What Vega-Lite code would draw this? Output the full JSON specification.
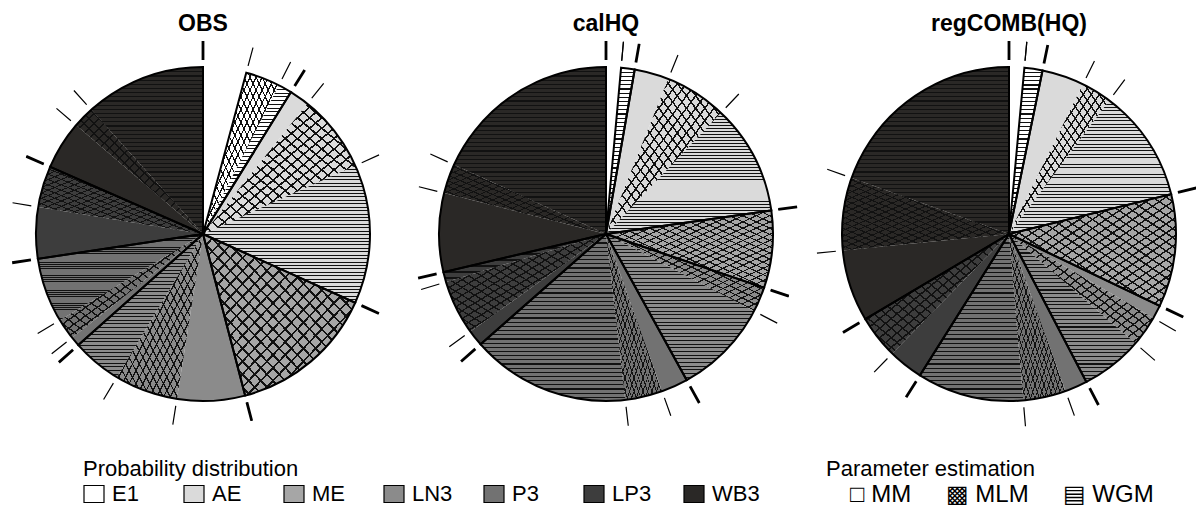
{
"$schema":"https://vega.github.io/schema/vega-lite/v6.json",
"background":"white",
"padding":{"left":6,"top":13,"right":0,"bottom":0},
"bounds":"flush",
"data":{"values":[
{"panel":"OBS","dist":"E1","method":"MM","value":4.17},
{"panel":"OBS","dist":"E1","method":"MLM","value":3.33},
{"panel":"OBS","dist":"E1","method":"WGM","value":1.33},
{"panel":"OBS","dist":"AE","method":"MM","value":1.92},
{"panel":"OBS","dist":"AE","method":"MLM","value":7.53},
{"panel":"OBS","dist":"AE","method":"WGM","value":13.47},
{"panel":"OBS","dist":"ME","method":"MM","value":0},
{"panel":"OBS","dist":"ME","method":"MLM","value":14.19},
{"panel":"OBS","dist":"ME","method":"WGM","value":0},
{"panel":"OBS","dist":"LN3","method":"MM","value":6.56},
{"panel":"OBS","dist":"LN3","method":"MLM","value":6.11},
{"panel":"OBS","dist":"LN3","method":"WGM","value":4.81},
{"panel":"OBS","dist":"P3","method":"MM","value":0.92},
{"panel":"OBS","dist":"P3","method":"MLM","value":2.03},
{"panel":"OBS","dist":"P3","method":"WGM","value":6.25},
{"panel":"OBS","dist":"LP3","method":"MM","value":4.97},
{"panel":"OBS","dist":"LP3","method":"MLM","value":4.0},
{"panel":"OBS","dist":"LP3","method":"WGM","value":0},
{"panel":"OBS","dist":"WB3","method":"MM","value":4.69},
{"panel":"OBS","dist":"WB3","method":"MLM","value":2.06},
{"panel":"OBS","dist":"WB3","method":"WGM","value":11.66},
{"panel":"calHQ","dist":"E1","method":"MM","value":1.44},
{"panel":"calHQ","dist":"E1","method":"MLM","value":0},
{"panel":"calHQ","dist":"E1","method":"WGM","value":1.31},
{"panel":"calHQ","dist":"AE","method":"MM","value":3.33},
{"panel":"calHQ","dist":"AE","method":"MLM","value":6.0},
{"panel":"calHQ","dist":"AE","method":"WGM","value":10.67},
{"panel":"calHQ","dist":"ME","method":"MM","value":0},
{"panel":"calHQ","dist":"ME","method":"MLM","value":7.47},
{"panel":"calHQ","dist":"ME","method":"WGM","value":0},
{"panel":"calHQ","dist":"LN3","method":"MM","value":0},
{"panel":"calHQ","dist":"LN3","method":"MLM","value":2.42},
{"panel":"calHQ","dist":"LN3","method":"WGM","value":9.33},
{"panel":"calHQ","dist":"P3","method":"MM","value":2.58},
{"panel":"calHQ","dist":"P3","method":"MLM","value":3.61},
{"panel":"calHQ","dist":"P3","method":"WGM","value":15.36},
{"panel":"calHQ","dist":"LP3","method":"MM","value":1.56},
{"panel":"calHQ","dist":"LP3","method":"MLM","value":5.28},
{"panel":"calHQ","dist":"LP3","method":"WGM","value":0.97},
{"panel":"calHQ","dist":"WB3","method":"MM","value":7.61},
{"panel":"calHQ","dist":"WB3","method":"MLM","value":2.86},
{"panel":"calHQ","dist":"WB3","method":"WGM","value":18.2},
{"panel":"regCOMB(HQ)","dist":"E1","method":"MM","value":1.47},
{"panel":"regCOMB(HQ)","dist":"E1","method":"MLM","value":0},
{"panel":"regCOMB(HQ)","dist":"E1","method":"WGM","value":1.75},
{"panel":"regCOMB(HQ)","dist":"AE","method":"MM","value":4.08},
{"panel":"regCOMB(HQ)","dist":"AE","method":"MLM","value":2.94},
{"panel":"regCOMB(HQ)","dist":"AE","method":"WGM","value":10.92},
{"panel":"regCOMB(HQ)","dist":"ME","method":"MM","value":0},
{"panel":"regCOMB(HQ)","dist":"ME","method":"MLM","value":10.92},
{"panel":"regCOMB(HQ)","dist":"ME","method":"WGM","value":0},
{"panel":"regCOMB(HQ)","dist":"LN3","method":"MM","value":1.31},
{"panel":"regCOMB(HQ)","dist":"LN3","method":"MLM","value":2.97},
{"panel":"regCOMB(HQ)","dist":"LN3","method":"WGM","value":5.97},
{"panel":"regCOMB(HQ)","dist":"P3","method":"MM","value":2.17},
{"panel":"regCOMB(HQ)","dist":"P3","method":"MLM","value":4.14},
{"panel":"regCOMB(HQ)","dist":"P3","method":"WGM","value":10.31},
{"panel":"regCOMB(HQ)","dist":"LP3","method":"MM","value":3.36},
{"panel":"regCOMB(HQ)","dist":"LP3","method":"MLM","value":4.17},
{"panel":"regCOMB(HQ)","dist":"LP3","method":"WGM","value":0},
{"panel":"regCOMB(HQ)","dist":"WB3","method":"MM","value":6.94},
{"panel":"regCOMB(HQ)","dist":"WB3","method":"MLM","value":7.03},
{"panel":"regCOMB(HQ)","dist":"WB3","method":"WGM","value":19.55}
]},
"transform":[
{"window":[{"op":"sum","field":"value","as":"end"}],"groupby":["panel"],"frame":[null,0]},
{"window":[{"op":"sum","field":"value","as":"start"}],"groupby":["panel"],"frame":[null,-1]}
],
"facet":{"column":{"field":"panel","type":"nominal","sort":["OBS","calHQ","regCOMB(HQ)"],"title":null,
 "header":{"labelFontSize":23,"labelFontWeight":"bold","labelFont":"Liberation Sans","labelColor":"black","labelPadding":11}}},
"spacing":29,
"spec":{"width":374,"height":374,"layer":[
{"mark":{"type":"point","size":1,"filled":true,"fill":"white","stroke":"black","strokeWidth":1},
 "encoding":{"shape":{"field":"method","type":"nominal",
  "scale":{"domain":["MM","MLM","WGM"],"range":["square","square","square"]},
  "legend":{"orient":"none","legendX":810,"legendY":412,"direction":"horizontal","columns":3,"title":"Parameter estimation","titleLimit":400,"titleFontSize":22,"titleFont":"Liberation Sans","titleFontWeight":"normal","titleColor":"black","labelFontSize":24,"labelFont":"Liberation Sans, DejaVu Sans","labelColor":"black","labelLimit":200,
   "labelExpr":"datum.value === 'MLM' ? '\u25a9 MLM' : datum.value === 'WGM' ? '\u25a4 WGM' : '\u25a1 MM'",
   "symbolSize":1,"symbolOpacity":0,"columnPadding":10,"gridAlign":"each","labelOffset":0,"titlePadding":2,"padding":0,"offset":0}}}},
{"mark":{"type":"arc","radius":167},
 "encoding":{"theta":{"field":"start","type":"quantitative","scale":{"domain":[0,100]}},"theta2":{"field":"end"},
  "fill":{"field":"dist","type":"nominal","scale":{"domain":["E1","AE","ME","LN3","P3","LP3","WB3"],"range":["#ffffff","#dadada","#a6a6a6","#8b8b8b","#727272","#3d3d3d","#2a2826"]},
   "legend":{"orient":"none","legendX":67,"legendY":412,"direction":"horizontal","columns":7,"title":"Probability distribution","titleLimit":400,"titleFontSize":22,"titleFont":"Liberation Sans","titleFontWeight":"normal","titleColor":"black","labelFontSize":22,"labelFont":"Liberation Sans","labelColor":"black","symbolType":"M-1,-0.85H1V0.85H-1Z","symbolSize":400,"symbolStrokeColor":"black","symbolStrokeWidth":1.2,"columnPadding":21,"gridAlign":"all","labelOffset":7,"titlePadding":2,"padding":0}}}},
{"transform":[{"filter":"datum.method === 'WGM'"}],
 "mark":{"type":"arc","radius":167,"fill":{"gradient":"linear","x1":0,"y1":0,"x2":0,"y2":1,"stops":[
{"offset":0,"color":"#111"},{"offset":0.007,"color":"#111"},{"offset":0.007,"color":"rgba(0,0,0,0)"},{"offset":0.025,"color":"rgba(0,0,0,0)"},
{"offset":0.025,"color":"#111"},{"offset":0.032,"color":"#111"},{"offset":0.032,"color":"rgba(0,0,0,0)"},{"offset":0.05,"color":"rgba(0,0,0,0)"},
{"offset":0.05,"color":"#111"},{"offset":0.057,"color":"#111"},{"offset":0.057,"color":"rgba(0,0,0,0)"},{"offset":0.075,"color":"rgba(0,0,0,0)"},
{"offset":0.075,"color":"#111"},{"offset":0.082,"color":"#111"},{"offset":0.082,"color":"rgba(0,0,0,0)"},{"offset":0.1,"color":"rgba(0,0,0,0)"},
{"offset":0.1,"color":"#111"},{"offset":0.107,"color":"#111"},{"offset":0.107,"color":"rgba(0,0,0,0)"},{"offset":0.125,"color":"rgba(0,0,0,0)"},
{"offset":0.125,"color":"#111"},{"offset":0.132,"color":"#111"},{"offset":0.132,"color":"rgba(0,0,0,0)"},{"offset":0.15,"color":"rgba(0,0,0,0)"},
{"offset":0.15,"color":"#111"},{"offset":0.157,"color":"#111"},{"offset":0.157,"color":"rgba(0,0,0,0)"},{"offset":0.175,"color":"rgba(0,0,0,0)"},
{"offset":0.175,"color":"#111"},{"offset":0.182,"color":"#111"},{"offset":0.182,"color":"rgba(0,0,0,0)"},{"offset":0.2,"color":"rgba(0,0,0,0)"},
{"offset":0.2,"color":"#111"},{"offset":0.207,"color":"#111"},{"offset":0.207,"color":"rgba(0,0,0,0)"},{"offset":0.225,"color":"rgba(0,0,0,0)"},
{"offset":0.225,"color":"#111"},{"offset":0.232,"color":"#111"},{"offset":0.232,"color":"rgba(0,0,0,0)"},{"offset":0.25,"color":"rgba(0,0,0,0)"},
{"offset":0.25,"color":"#111"},{"offset":0.257,"color":"#111"},{"offset":0.257,"color":"rgba(0,0,0,0)"},{"offset":0.275,"color":"rgba(0,0,0,0)"},
{"offset":0.275,"color":"#111"},{"offset":0.282,"color":"#111"},{"offset":0.282,"color":"rgba(0,0,0,0)"},{"offset":0.3,"color":"rgba(0,0,0,0)"},
{"offset":0.3,"color":"#111"},{"offset":0.307,"color":"#111"},{"offset":0.307,"color":"rgba(0,0,0,0)"},{"offset":0.325,"color":"rgba(0,0,0,0)"},
{"offset":0.325,"color":"#111"},{"offset":0.332,"color":"#111"},{"offset":0.332,"color":"rgba(0,0,0,0)"},{"offset":0.35,"color":"rgba(0,0,0,0)"},
{"offset":0.35,"color":"#111"},{"offset":0.357,"color":"#111"},{"offset":0.357,"color":"rgba(0,0,0,0)"},{"offset":0.375,"color":"rgba(0,0,0,0)"},
{"offset":0.375,"color":"#111"},{"offset":0.382,"color":"#111"},{"offset":0.382,"color":"rgba(0,0,0,0)"},{"offset":0.4,"color":"rgba(0,0,0,0)"},
{"offset":0.4,"color":"#111"},{"offset":0.407,"color":"#111"},{"offset":0.407,"color":"rgba(0,0,0,0)"},{"offset":0.425,"color":"rgba(0,0,0,0)"},
{"offset":0.425,"color":"#111"},{"offset":0.432,"color":"#111"},{"offset":0.432,"color":"rgba(0,0,0,0)"},{"offset":0.45,"color":"rgba(0,0,0,0)"},
{"offset":0.45,"color":"#111"},{"offset":0.457,"color":"#111"},{"offset":0.457,"color":"rgba(0,0,0,0)"},{"offset":0.475,"color":"rgba(0,0,0,0)"},
{"offset":0.475,"color":"#111"},{"offset":0.482,"color":"#111"},{"offset":0.482,"color":"rgba(0,0,0,0)"},{"offset":0.5,"color":"rgba(0,0,0,0)"},
{"offset":0.5,"color":"#111"},{"offset":0.507,"color":"#111"},{"offset":0.507,"color":"rgba(0,0,0,0)"},{"offset":0.525,"color":"rgba(0,0,0,0)"},
{"offset":0.525,"color":"#111"},{"offset":0.532,"color":"#111"},{"offset":0.532,"color":"rgba(0,0,0,0)"},{"offset":0.55,"color":"rgba(0,0,0,0)"},
{"offset":0.55,"color":"#111"},{"offset":0.557,"color":"#111"},{"offset":0.557,"color":"rgba(0,0,0,0)"},{"offset":0.575,"color":"rgba(0,0,0,0)"},
{"offset":0.575,"color":"#111"},{"offset":0.582,"color":"#111"},{"offset":0.582,"color":"rgba(0,0,0,0)"},{"offset":0.6,"color":"rgba(0,0,0,0)"},
{"offset":0.6,"color":"#111"},{"offset":0.607,"color":"#111"},{"offset":0.607,"color":"rgba(0,0,0,0)"},{"offset":0.625,"color":"rgba(0,0,0,0)"},
{"offset":0.625,"color":"#111"},{"offset":0.632,"color":"#111"},{"offset":0.632,"color":"rgba(0,0,0,0)"},{"offset":0.65,"color":"rgba(0,0,0,0)"},
{"offset":0.65,"color":"#111"},{"offset":0.657,"color":"#111"},{"offset":0.657,"color":"rgba(0,0,0,0)"},{"offset":0.675,"color":"rgba(0,0,0,0)"},
{"offset":0.675,"color":"#111"},{"offset":0.682,"color":"#111"},{"offset":0.682,"color":"rgba(0,0,0,0)"},{"offset":0.7,"color":"rgba(0,0,0,0)"},
{"offset":0.7,"color":"#111"},{"offset":0.707,"color":"#111"},{"offset":0.707,"color":"rgba(0,0,0,0)"},{"offset":0.725,"color":"rgba(0,0,0,0)"},
{"offset":0.725,"color":"#111"},{"offset":0.732,"color":"#111"},{"offset":0.732,"color":"rgba(0,0,0,0)"},{"offset":0.75,"color":"rgba(0,0,0,0)"},
{"offset":0.75,"color":"#111"},{"offset":0.757,"color":"#111"},{"offset":0.757,"color":"rgba(0,0,0,0)"},{"offset":0.775,"color":"rgba(0,0,0,0)"},
{"offset":0.775,"color":"#111"},{"offset":0.782,"color":"#111"},{"offset":0.782,"color":"rgba(0,0,0,0)"},{"offset":0.8,"color":"rgba(0,0,0,0)"},
{"offset":0.8,"color":"#111"},{"offset":0.807,"color":"#111"},{"offset":0.807,"color":"rgba(0,0,0,0)"},{"offset":0.825,"color":"rgba(0,0,0,0)"},
{"offset":0.825,"color":"#111"},{"offset":0.832,"color":"#111"},{"offset":0.832,"color":"rgba(0,0,0,0)"},{"offset":0.85,"color":"rgba(0,0,0,0)"},
{"offset":0.85,"color":"#111"},{"offset":0.857,"color":"#111"},{"offset":0.857,"color":"rgba(0,0,0,0)"},{"offset":0.875,"color":"rgba(0,0,0,0)"},
{"offset":0.875,"color":"#111"},{"offset":0.882,"color":"#111"},{"offset":0.882,"color":"rgba(0,0,0,0)"},{"offset":0.9,"color":"rgba(0,0,0,0)"},
{"offset":0.9,"color":"#111"},{"offset":0.907,"color":"#111"},{"offset":0.907,"color":"rgba(0,0,0,0)"},{"offset":0.925,"color":"rgba(0,0,0,0)"},
{"offset":0.925,"color":"#111"},{"offset":0.932,"color":"#111"},{"offset":0.932,"color":"rgba(0,0,0,0)"},{"offset":0.95,"color":"rgba(0,0,0,0)"},
{"offset":0.95,"color":"#111"},{"offset":0.957,"color":"#111"},{"offset":0.957,"color":"rgba(0,0,0,0)"},{"offset":0.975,"color":"rgba(0,0,0,0)"},
{"offset":0.975,"color":"#111"},{"offset":0.982,"color":"#111"},{"offset":0.982,"color":"rgba(0,0,0,0)"},{"offset":1,"color":"rgba(0,0,0,0)"}
]}},
 "encoding":{"theta":{"field":"start","type":"quantitative"},"theta2":{"field":"end"}}},
{"transform":[{"filter":"datum.method === 'MLM'"}],
 "mark":{"type":"arc","radius":167,"fill":{"gradient":"linear","x1":0,"y1":0,"x2":1,"y2":1,"stops":[
{"offset":0,"color":"#111"},{"offset":0.008,"color":"#111"},{"offset":0.008,"color":"rgba(0,0,0,0)"},{"offset":0.04,"color":"rgba(0,0,0,0)"},
{"offset":0.04,"color":"#111"},{"offset":0.048,"color":"#111"},{"offset":0.048,"color":"rgba(0,0,0,0)"},{"offset":0.08,"color":"rgba(0,0,0,0)"},
{"offset":0.08,"color":"#111"},{"offset":0.088,"color":"#111"},{"offset":0.088,"color":"rgba(0,0,0,0)"},{"offset":0.12,"color":"rgba(0,0,0,0)"},
{"offset":0.12,"color":"#111"},{"offset":0.128,"color":"#111"},{"offset":0.128,"color":"rgba(0,0,0,0)"},{"offset":0.16,"color":"rgba(0,0,0,0)"},
{"offset":0.16,"color":"#111"},{"offset":0.168,"color":"#111"},{"offset":0.168,"color":"rgba(0,0,0,0)"},{"offset":0.2,"color":"rgba(0,0,0,0)"},
{"offset":0.2,"color":"#111"},{"offset":0.208,"color":"#111"},{"offset":0.208,"color":"rgba(0,0,0,0)"},{"offset":0.24,"color":"rgba(0,0,0,0)"},
{"offset":0.24,"color":"#111"},{"offset":0.248,"color":"#111"},{"offset":0.248,"color":"rgba(0,0,0,0)"},{"offset":0.28,"color":"rgba(0,0,0,0)"},
{"offset":0.28,"color":"#111"},{"offset":0.288,"color":"#111"},{"offset":0.288,"color":"rgba(0,0,0,0)"},{"offset":0.32,"color":"rgba(0,0,0,0)"},
{"offset":0.32,"color":"#111"},{"offset":0.328,"color":"#111"},{"offset":0.328,"color":"rgba(0,0,0,0)"},{"offset":0.36,"color":"rgba(0,0,0,0)"},
{"offset":0.36,"color":"#111"},{"offset":0.368,"color":"#111"},{"offset":0.368,"color":"rgba(0,0,0,0)"},{"offset":0.4,"color":"rgba(0,0,0,0)"},
{"offset":0.4,"color":"#111"},{"offset":0.408,"color":"#111"},{"offset":0.408,"color":"rgba(0,0,0,0)"},{"offset":0.44,"color":"rgba(0,0,0,0)"},
{"offset":0.44,"color":"#111"},{"offset":0.448,"color":"#111"},{"offset":0.448,"color":"rgba(0,0,0,0)"},{"offset":0.48,"color":"rgba(0,0,0,0)"},
{"offset":0.48,"color":"#111"},{"offset":0.488,"color":"#111"},{"offset":0.488,"color":"rgba(0,0,0,0)"},{"offset":0.52,"color":"rgba(0,0,0,0)"},
{"offset":0.52,"color":"#111"},{"offset":0.528,"color":"#111"},{"offset":0.528,"color":"rgba(0,0,0,0)"},{"offset":0.56,"color":"rgba(0,0,0,0)"},
{"offset":0.56,"color":"#111"},{"offset":0.568,"color":"#111"},{"offset":0.568,"color":"rgba(0,0,0,0)"},{"offset":0.6,"color":"rgba(0,0,0,0)"},
{"offset":0.6,"color":"#111"},{"offset":0.608,"color":"#111"},{"offset":0.608,"color":"rgba(0,0,0,0)"},{"offset":0.64,"color":"rgba(0,0,0,0)"},
{"offset":0.64,"color":"#111"},{"offset":0.648,"color":"#111"},{"offset":0.648,"color":"rgba(0,0,0,0)"},{"offset":0.68,"color":"rgba(0,0,0,0)"},
{"offset":0.68,"color":"#111"},{"offset":0.688,"color":"#111"},{"offset":0.688,"color":"rgba(0,0,0,0)"},{"offset":0.72,"color":"rgba(0,0,0,0)"},
{"offset":0.72,"color":"#111"},{"offset":0.728,"color":"#111"},{"offset":0.728,"color":"rgba(0,0,0,0)"},{"offset":0.76,"color":"rgba(0,0,0,0)"},
{"offset":0.76,"color":"#111"},{"offset":0.768,"color":"#111"},{"offset":0.768,"color":"rgba(0,0,0,0)"},{"offset":0.8,"color":"rgba(0,0,0,0)"},
{"offset":0.8,"color":"#111"},{"offset":0.808,"color":"#111"},{"offset":0.808,"color":"rgba(0,0,0,0)"},{"offset":0.84,"color":"rgba(0,0,0,0)"},
{"offset":0.84,"color":"#111"},{"offset":0.848,"color":"#111"},{"offset":0.848,"color":"rgba(0,0,0,0)"},{"offset":0.88,"color":"rgba(0,0,0,0)"},
{"offset":0.88,"color":"#111"},{"offset":0.888,"color":"#111"},{"offset":0.888,"color":"rgba(0,0,0,0)"},{"offset":0.92,"color":"rgba(0,0,0,0)"},
{"offset":0.92,"color":"#111"},{"offset":0.928,"color":"#111"},{"offset":0.928,"color":"rgba(0,0,0,0)"},{"offset":0.96,"color":"rgba(0,0,0,0)"},
{"offset":0.96,"color":"#111"},{"offset":0.968,"color":"#111"},{"offset":0.968,"color":"rgba(0,0,0,0)"},{"offset":1,"color":"rgba(0,0,0,0)"}
]}},
 "encoding":{"theta":{"field":"start","type":"quantitative"},"theta2":{"field":"end"}}},
{"transform":[{"filter":"datum.method === 'MLM'"}],
 "mark":{"type":"arc","radius":167,"fill":{"gradient":"linear","x1":1,"y1":0,"x2":0,"y2":1,"stops":[
{"offset":0,"color":"#111"},{"offset":0.008,"color":"#111"},{"offset":0.008,"color":"rgba(0,0,0,0)"},{"offset":0.04,"color":"rgba(0,0,0,0)"},
{"offset":0.04,"color":"#111"},{"offset":0.048,"color":"#111"},{"offset":0.048,"color":"rgba(0,0,0,0)"},{"offset":0.08,"color":"rgba(0,0,0,0)"},
{"offset":0.08,"color":"#111"},{"offset":0.088,"color":"#111"},{"offset":0.088,"color":"rgba(0,0,0,0)"},{"offset":0.12,"color":"rgba(0,0,0,0)"},
{"offset":0.12,"color":"#111"},{"offset":0.128,"color":"#111"},{"offset":0.128,"color":"rgba(0,0,0,0)"},{"offset":0.16,"color":"rgba(0,0,0,0)"},
{"offset":0.16,"color":"#111"},{"offset":0.168,"color":"#111"},{"offset":0.168,"color":"rgba(0,0,0,0)"},{"offset":0.2,"color":"rgba(0,0,0,0)"},
{"offset":0.2,"color":"#111"},{"offset":0.208,"color":"#111"},{"offset":0.208,"color":"rgba(0,0,0,0)"},{"offset":0.24,"color":"rgba(0,0,0,0)"},
{"offset":0.24,"color":"#111"},{"offset":0.248,"color":"#111"},{"offset":0.248,"color":"rgba(0,0,0,0)"},{"offset":0.28,"color":"rgba(0,0,0,0)"},
{"offset":0.28,"color":"#111"},{"offset":0.288,"color":"#111"},{"offset":0.288,"color":"rgba(0,0,0,0)"},{"offset":0.32,"color":"rgba(0,0,0,0)"},
{"offset":0.32,"color":"#111"},{"offset":0.328,"color":"#111"},{"offset":0.328,"color":"rgba(0,0,0,0)"},{"offset":0.36,"color":"rgba(0,0,0,0)"},
{"offset":0.36,"color":"#111"},{"offset":0.368,"color":"#111"},{"offset":0.368,"color":"rgba(0,0,0,0)"},{"offset":0.4,"color":"rgba(0,0,0,0)"},
{"offset":0.4,"color":"#111"},{"offset":0.408,"color":"#111"},{"offset":0.408,"color":"rgba(0,0,0,0)"},{"offset":0.44,"color":"rgba(0,0,0,0)"},
{"offset":0.44,"color":"#111"},{"offset":0.448,"color":"#111"},{"offset":0.448,"color":"rgba(0,0,0,0)"},{"offset":0.48,"color":"rgba(0,0,0,0)"},
{"offset":0.48,"color":"#111"},{"offset":0.488,"color":"#111"},{"offset":0.488,"color":"rgba(0,0,0,0)"},{"offset":0.52,"color":"rgba(0,0,0,0)"},
{"offset":0.52,"color":"#111"},{"offset":0.528,"color":"#111"},{"offset":0.528,"color":"rgba(0,0,0,0)"},{"offset":0.56,"color":"rgba(0,0,0,0)"},
{"offset":0.56,"color":"#111"},{"offset":0.568,"color":"#111"},{"offset":0.568,"color":"rgba(0,0,0,0)"},{"offset":0.6,"color":"rgba(0,0,0,0)"},
{"offset":0.6,"color":"#111"},{"offset":0.608,"color":"#111"},{"offset":0.608,"color":"rgba(0,0,0,0)"},{"offset":0.64,"color":"rgba(0,0,0,0)"},
{"offset":0.64,"color":"#111"},{"offset":0.648,"color":"#111"},{"offset":0.648,"color":"rgba(0,0,0,0)"},{"offset":0.68,"color":"rgba(0,0,0,0)"},
{"offset":0.68,"color":"#111"},{"offset":0.688,"color":"#111"},{"offset":0.688,"color":"rgba(0,0,0,0)"},{"offset":0.72,"color":"rgba(0,0,0,0)"},
{"offset":0.72,"color":"#111"},{"offset":0.728,"color":"#111"},{"offset":0.728,"color":"rgba(0,0,0,0)"},{"offset":0.76,"color":"rgba(0,0,0,0)"},
{"offset":0.76,"color":"#111"},{"offset":0.768,"color":"#111"},{"offset":0.768,"color":"rgba(0,0,0,0)"},{"offset":0.8,"color":"rgba(0,0,0,0)"},
{"offset":0.8,"color":"#111"},{"offset":0.808,"color":"#111"},{"offset":0.808,"color":"rgba(0,0,0,0)"},{"offset":0.84,"color":"rgba(0,0,0,0)"},
{"offset":0.84,"color":"#111"},{"offset":0.848,"color":"#111"},{"offset":0.848,"color":"rgba(0,0,0,0)"},{"offset":0.88,"color":"rgba(0,0,0,0)"},
{"offset":0.88,"color":"#111"},{"offset":0.888,"color":"#111"},{"offset":0.888,"color":"rgba(0,0,0,0)"},{"offset":0.92,"color":"rgba(0,0,0,0)"},
{"offset":0.92,"color":"#111"},{"offset":0.928,"color":"#111"},{"offset":0.928,"color":"rgba(0,0,0,0)"},{"offset":0.96,"color":"rgba(0,0,0,0)"},
{"offset":0.96,"color":"#111"},{"offset":0.968,"color":"#111"},{"offset":0.968,"color":"rgba(0,0,0,0)"},{"offset":1,"color":"rgba(0,0,0,0)"}
]}},
 "encoding":{"theta":{"field":"start","type":"quantitative"},"theta2":{"field":"end"}}},
{"transform":[{"aggregate":[{"op":"min","field":"start","as":"start"},{"op":"max","field":"end","as":"end"}],"groupby":["panel","dist"]}],
 "mark":{"type":"arc","radius":167,"filled":false,"stroke":"black","strokeWidth":2},
 "encoding":{"theta":{"field":"start","type":"quantitative"},"theta2":{"field":"end"}}},
{"transform":[{"filter":"datum.method !== 'WGM'"}],
 "mark":{"type":"arc","radius":193,"radius2":174,"filled":false,"stroke":"black","strokeWidth":1.2},
 "encoding":{"theta":{"field":"end","type":"quantitative"},"theta2":{"field":"end"}}},
{"transform":[{"filter":"datum.method === 'WGM'"}],
 "mark":{"type":"arc","radius":193,"radius2":174,"filled":false,"stroke":"black","strokeWidth":2.8},
 "encoding":{"theta":{"field":"end","type":"quantitative"},"theta2":{"field":"end"}}}
]},
"config":{"view":{"stroke":null},"font":"Liberation Sans"}
}
